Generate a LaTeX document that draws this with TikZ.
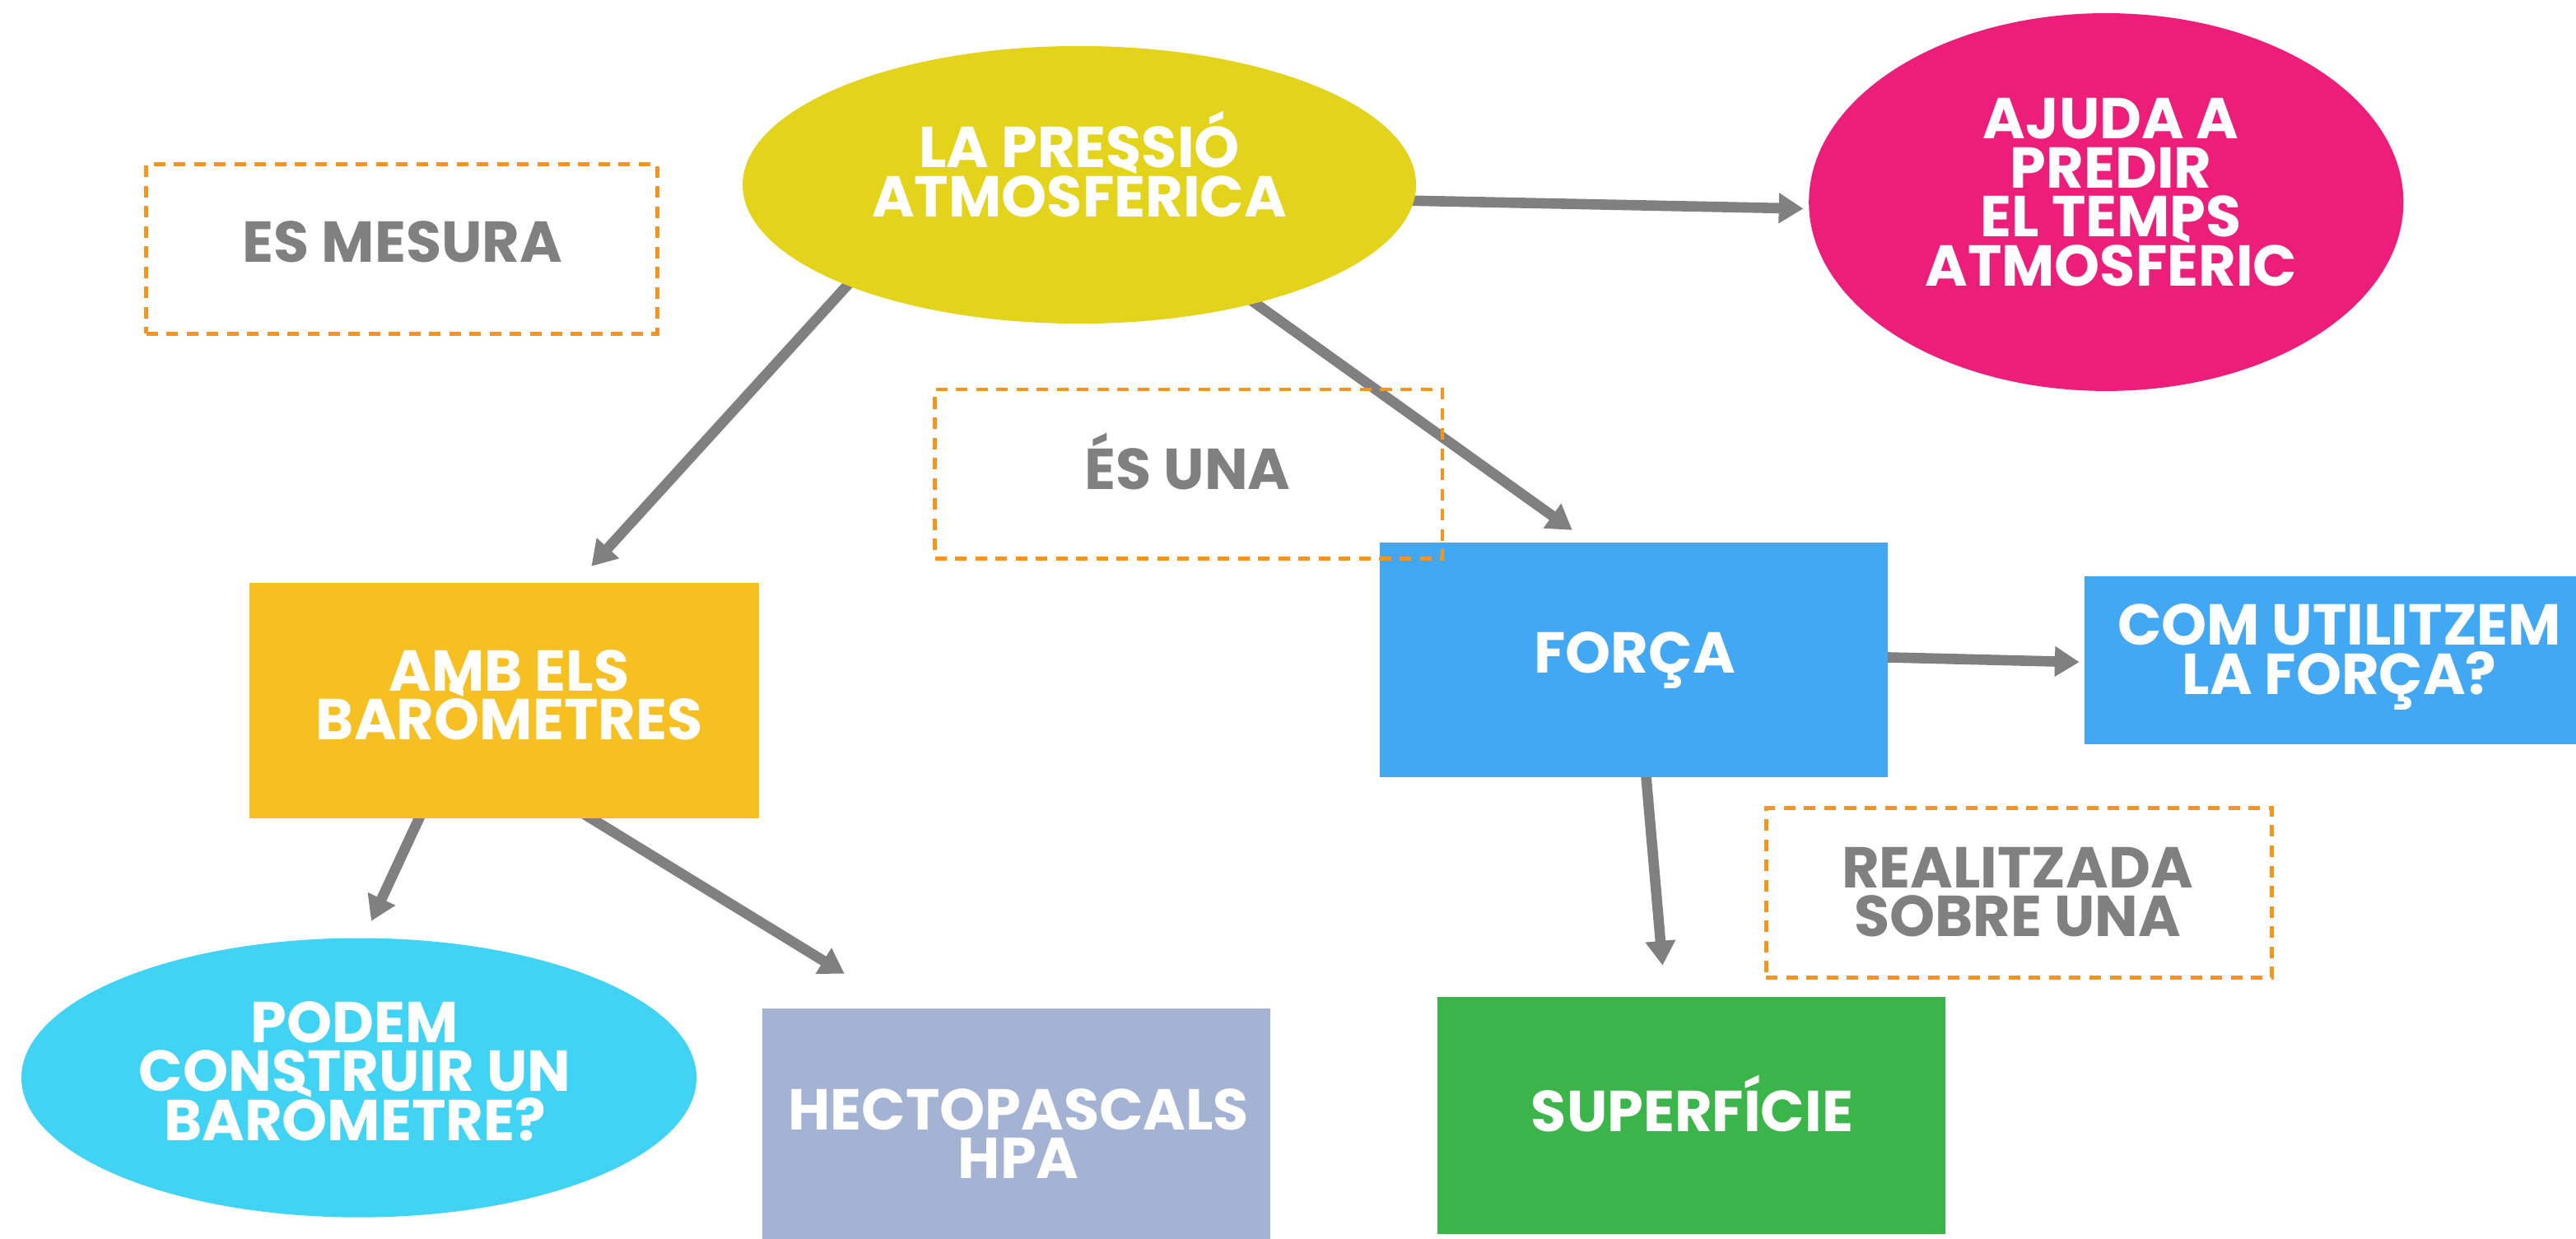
\documentclass[tikz,border=0pt]{standalone}
\usepackage{fontspec}
\newfontfamily\lbl{Poppins}
\usetikzlibrary{arrows.meta,calc,shapes.geometric}
\pgfdeclarelayer{bg}
\pgfsetlayers{bg,main}
\definecolor{cyel}{HTML}{E3D31B}
\definecolor{cmag}{HTML}{ED1E79}
\definecolor{corg}{HTML}{F7C022}
\definecolor{cblu}{HTML}{42A8F4}
\definecolor{ccya}{HTML}{40D3F4}
\definecolor{cper}{HTML}{A4B3D4}
\definecolor{cgrn}{HTML}{3BB54A}
\definecolor{cdash}{HTML}{F7941D}
\definecolor{cgry}{HTML}{808080}
\newcommand\lblfont{\lbl\bfseries\fontsize{20}{17}\selectfont\lineskiplimit-30pt\relax}
\begin{document}
\begin{tikzpicture}[x=0.02cm,y=-0.02cm,
 sbox/.style={rectangle, inner sep=0, draw=none},
 ell/.style={ellipse, inner sep=0, draw=none},
 txt/.style={inner sep=0, align=center, text=white, font=\lblfont},
 gtxt/.style={txt, text=cgry},
 dbox/.style={rectangle, draw=cdash, line width=1.4pt, dash pattern=on 4pt off 3pt, inner sep=0},
 arr/.style={draw=cgry, line width=3.6pt, -{Triangle[length=8.5pt,width=10pt]}},
]
\useasboundingbox (0,0) rectangle (1568,754);

% shapes
\node[ell, fill=cyel, minimum width=8.2cm, minimum height=3.38cm] (yel) at (657,112.5) {};
\node[ell, fill=cmag, minimum width=7.24cm, minimum height=4.6cm] (mag) at (1282,123) {};
\node[ell, fill=ccya, minimum width=8.22cm, minimum height=3.4cm] (pod) at (218.5,656) {};
\node[sbox, fill=corg, minimum width=6.2cm, minimum height=2.86cm] (amb) at (307,426.5) {};
\node[sbox, fill=cblu, minimum width=6.18cm, minimum height=2.86cm] (forca) at (994.5,401.5) {};
\node[sbox, fill=cblu, minimum width=6.2cm, minimum height=2.04cm] (com) at (1424,402) {};
\node[sbox, fill=cper, minimum width=6.18cm, minimum height=2.88cm] (hec) at (618.5,686) {};
\node[sbox, fill=cgrn, minimum width=6.18cm, minimum height=2.88cm] (sup) at (1029.5,679) {};

% texts
\node[txt] (yelT) at (657,100) {LA PRESSIÓ\\ATMOSFÈRICA};
\node[txt] (magT) at (1285,117) {AJUDA A\\PREDIR\\EL TEMPS\\ATMOSFÈRIC};
\node[txt] (podT) at (216,652) {PODEM\\CONSTRUIR UN\\BARÒMETRE?};
\node[txt] (ambT) at (310,423) {AMB ELS\\BARÒMETRES};
\node[txt] (forcaT) at (995,402) {FORÇA};
\node[txt] (comT) at (1424,400) {COM UTILITZEM\\LA FORÇA?};
\node[txt] (hecT) at (620,690) {HECTOPASCALS\\HPA};
\node[txt] (supT) at (1030,672) {SUPERFÍCIE};

% dashed label boxes
\node[dbox, minimum width=6.22cm, minimum height=2.06cm] (esm) at (244.5,151.5) {};
\node[gtxt] (esmT) at (245,147) {ES MESURA};
\node[dbox, minimum width=6.18cm, minimum height=2.06cm] (esu) at (723.5,288.5) {};
\node[gtxt] (esuT) at (723,281) {ÉS UNA};
\node[dbox, minimum width=6.16cm, minimum height=2.06cm] (real) at (1229,543.5) {};
\node[gtxt] (realT) at (1228,543) {REALITZADA\\SOBRE UNA};

% connectors
\begin{pgfonlayer}{bg}
\draw[arr] ($(yel.east)+(-10,9.5)$) -- ($(mag.west)+(-3,4)$);
\draw[arr] ($(yel.center)+(-137,56.5)$) -- ($(amb.north)+(53,-10)$);
\draw[arr] ($(yel.center)+(100,67)$) -- ($(forca.north)+(-37.5,-7)$);
\draw[arr] ($(forca.east)+(-5,-1.5)$) -- ($(com.west)+(-3,1)$);
\draw[arr] ($(forca.south)+(7.1,-5)$) -- ($(sup.north)+(-17.5,-19)$);
\draw[arr] ($(amb.south)+(-49.7,-5)$) -- ($(pod.north)+(7.5,-10)$);
\draw[arr] ($(amb.south)+(45,-5)$) -- ($(hec.north)+(-104.5,-21)$);
\end{pgfonlayer}
\end{tikzpicture}
\end{document}
